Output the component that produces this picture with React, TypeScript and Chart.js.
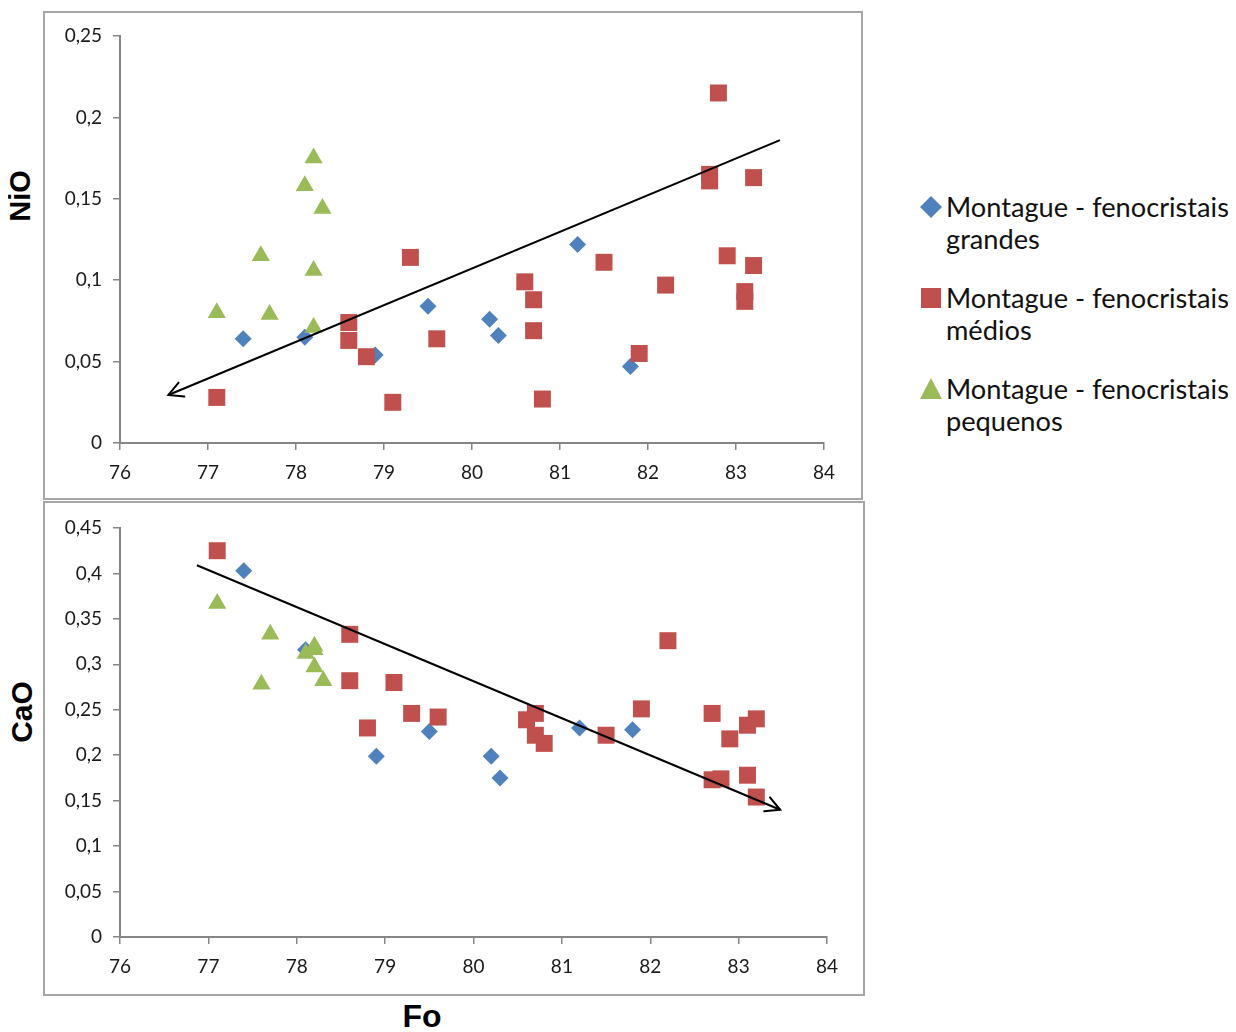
import React, { useEffect, useRef } from 'react';
import { Chart, registerables } from 'chart.js';

Chart.register(...registerables);

// ---- Data ----
const foGrandes = [77.4, 78.1, 78.9, 79.5, 80.2, 80.3, 81.2, 81.8];
const nioGrandes = [0.064, 0.065, 0.054, 0.084, 0.076, 0.066, 0.122, 0.047];
const caoGrandes = [0.403, 0.316, 0.199, 0.226, 0.199, 0.175, 0.230, 0.228];

const foMedios = [77.1, 78.6, 78.6, 78.8, 79.1, 79.3, 79.6, 80.6, 80.7, 80.7, 80.8, 81.5, 81.9, 82.2, 82.7, 82.7, 82.8, 82.9, 83.1, 83.1, 83.2, 83.2];
const nioMedios = [0.028, 0.074, 0.063, 0.053, 0.025, 0.114, 0.064, 0.099, 0.088, 0.069, 0.027, 0.111, 0.055, 0.097, 0.165, 0.161, 0.215, 0.115, 0.093, 0.087, 0.163, 0.109];
const caoMedios = [0.425, 0.333, 0.282, 0.230, 0.280, 0.246, 0.242, 0.239, 0.246, 0.222, 0.213, 0.222, 0.251, 0.326, 0.246, 0.173, 0.174, 0.218, 0.233, 0.178, 0.240, 0.154];

const foPequenos = [77.1, 77.6, 77.7, 78.1, 78.2, 78.3, 78.2, 78.2];
const nioPequenos = [0.080, 0.115, 0.079, 0.158, 0.175, 0.144, 0.106, 0.071];
const caoPequenos = [0.367, 0.278, 0.333, 0.312, 0.320, 0.282, 0.297, 0.316];

// trend arrows (start -> arrow head)
const nioTrendFo = [83.5, 76.55];
const nioTrendVal = [0.186, 0.0295];
const caoTrendFo = [76.87, 83.47];
const caoTrendVal = [0.409, 0.140];

const foTicks = [76, 77, 78, 79, 80, 81, 82, 83, 84];
const nioTicks = [0, 0.05, 0.1, 0.15, 0.2, 0.25];
const caoTicks = [0, 0.05, 0.1, 0.15, 0.2, 0.25, 0.3, 0.35, 0.4, 0.45];

const seriesNames = [
  'Montague - fenocristais grandes',
  'Montague - fenocristais médios',
  'Montague - fenocristais pequenos',
];

const BLUE = '#4F81BD';
const RED = '#C0504D';
const GREEN = '#9BBB59';

const pts = (xs: number[], ys: number[]) => xs.map((x, i) => ({ x, y: ys[i] }));
const fmt = (v: number) => (v === 0 ? '0' : String(+v.toFixed(2)).replace('.', ','));

const boxPlugin = {
  id: 'boxPlugin',
  beforeDraw(chart: any) {
    const { ctx, width, height } = chart;
    ctx.save();
    ctx.fillStyle = '#ffffff';
    ctx.fillRect(0, 0, width, height);
    ctx.strokeStyle = '#a6a6a6';
    ctx.lineWidth = 2;
    ctx.strokeRect(1, 1, width - 2, height - 2);
    ctx.restore();
  },
};

const arrowPlugin = {
  id: 'arrowPlugin',
  afterDatasetsDraw(chart: any) {
    const { ctx } = chart;
    chart.data.datasets.forEach((ds: any, i: number) => {
      if (!ds.isArrow) return;
      const meta = chart.getDatasetMeta(i);
      const p0 = meta.data[0];
      const p1 = meta.data[1];
      const ang = Math.atan2(p1.y - p0.y, p1.x - p0.x);
      const len = 16;
      const spread = Math.PI / 6.5;
      ctx.save();
      ctx.strokeStyle = '#000';
      ctx.lineWidth = 2;
      ctx.lineCap = 'round';
      ctx.beginPath();
      ctx.moveTo(p1.x - len * Math.cos(ang - spread), p1.y - len * Math.sin(ang - spread));
      ctx.lineTo(p1.x, p1.y);
      ctx.lineTo(p1.x - len * Math.cos(ang + spread), p1.y - len * Math.sin(ang + spread));
      ctx.stroke();
      ctx.restore();
    });
  },
};

function makeConfig(
  grandes: number[],
  medios: number[],
  pequenos: number[],
  trendX: number[],
  trendY: number[],
  yTicks: number[],
  padTop: number,
  padRight: number,
  xAxisH: number
): any {
  const tickFont = { family: 'Lato', size: 19 };
  return {
    type: 'scatter',
    data: {
      datasets: [
        {
          label: 'trend',
          isArrow: true,
          data: pts(trendX, trendY),
          showLine: true,
          borderColor: '#000',
          borderWidth: 2,
          pointRadius: 0,
          order: 0,
        },
        {
          label: seriesNames[2],
          data: pts(foPequenos, pequenos),
          pointStyle: 'triangle',
          pointRadius: 10.5,
          backgroundColor: GREEN,
          borderColor: GREEN,
          borderWidth: 0,
          order: 1,
        },
        {
          label: seriesNames[1],
          data: pts(foMedios, medios),
          pointStyle: 'rect',
          pointRadius: 12,
          backgroundColor: RED,
          borderColor: RED,
          borderWidth: 0,
          order: 2,
        },
        {
          label: seriesNames[0],
          data: pts(foGrandes, grandes),
          pointStyle: 'rectRot',
          pointRadius: 8.5,
          backgroundColor: BLUE,
          borderColor: BLUE,
          borderWidth: 0,
          order: 3,
        },
      ],
    },
    options: {
      responsive: false,
      animation: false,
      layout: { padding: { left: 0, top: padTop, right: padRight, bottom: 0 } },
      plugins: { legend: { display: false }, tooltip: { enabled: false } },
      scales: {
        x: {
          type: 'linear',
          min: foTicks[0],
          max: foTicks[foTicks.length - 1],
          afterBuildTicks: (s: any) => {
            s.ticks = foTicks.map((v) => ({ value: v }));
          },
          ticks: { font: tickFont, color: '#1a1a1a', padding: 11, maxRotation: 0, autoSkip: false },
          grid: { display: true, drawOnChartArea: false, drawTicks: true, tickLength: 7, color: '#868686', lineWidth: 1.5 },
          border: { display: true, color: '#868686', width: 2 },
          afterFit: (s: any) => {
            s.height = xAxisH;
            s.paddingLeft = 0;
            s.paddingRight = 0;
          },
        },
        y: {
          type: 'linear',
          min: yTicks[0],
          max: yTicks[yTicks.length - 1],
          afterBuildTicks: (s: any) => {
            s.ticks = yTicks.map((v) => ({ value: v }));
          },
          ticks: { font: tickFont, color: '#1a1a1a', padding: 11, autoSkip: false, callback: (v: number) => fmt(v) },
          grid: { display: true, drawOnChartArea: false, drawTicks: true, tickLength: 7, color: '#868686', lineWidth: 1.5 },
          border: { display: true, color: '#868686', width: 2 },
          afterFit: (s: any) => {
            s.width = 77;
            s.paddingTop = 0;
            s.paddingBottom = 0;
          },
        },
      },
    },
    plugins: [boxPlugin, arrowPlugin],
  };
}

function ChartCanvas({ config, width, height, style }: any) {
  const ref = useRef<HTMLCanvasElement | null>(null);
  useEffect(() => {
    if (!ref.current) return;
    const chart = new Chart(ref.current, config);
    return () => chart.destroy();
  }, []);
  return <canvas ref={ref} width={width} height={height} style={{ position: 'absolute', width, height, ...style }} />;
}

function Marker({ kind, color }: { kind: string; color: string }) {
  if (kind === 'diamond') {
    return (
      <svg width="24" height="24" style={{ position: 'absolute', left: -12, top: -12 }}>
        <polygon points="12,1 23,12 12,23 1,12" fill={color} />
      </svg>
    );
  }
  if (kind === 'square') {
    return (
      <svg width="24" height="24" style={{ position: 'absolute', left: -12, top: -12 }}>
        <rect x="2" y="2" width="20" height="20" fill={color} />
      </svg>
    );
  }
  return (
    <svg width="24" height="24" style={{ position: 'absolute', left: -12, top: -12 }}>
      <polygon points="12,1 23,22 1,22" fill={color} />
    </svg>
  );
}

const legendItems = [
  { kind: 'diamond', color: BLUE, lines: ['Montague - fenocristais', 'grandes'], cy: 207 },
  { kind: 'square', color: RED, lines: ['Montague - fenocristais', 'médios'], cy: 298 },
  { kind: 'triangle', color: GREEN, lines: ['Montague - fenocristais', 'pequenos'], cy: 389 },
];

export default function App() {
  const topCfg = makeConfig(nioGrandes, nioMedios, nioPequenos, nioTrendFo, nioTrendVal, nioTicks, 25, 39, 57);
  const botCfg = makeConfig(caoGrandes, caoMedios, caoPequenos, caoTrendFo, caoTrendVal, caoTicks, 27, 38, 59);
  const off = 8;
  const titleStyle: any = {
    position: 'absolute',
    fontFamily: '"Liberation Sans", Arial, sans-serif',
    fontWeight: 'bold',
    color: '#000',
    whiteSpace: 'nowrap',
    lineHeight: 1,
  };
  return (
    <div style={{ position: 'relative', width: 1220, height: 1024 }}>
      <ChartCanvas config={topCfg} width={820} height={489} style={{ left: 43 - off, top: 11 - off }} />
      <ChartCanvas config={botCfg} width={822} height={495} style={{ left: 43 - off, top: 501 - off }} />
      <div style={{ ...titleStyle, fontSize: 29, left: 20 - off, top: 196 - off, transform: 'translate(-50%, -50%) rotate(-90deg)' }}>NiO</div>
      <div style={{ ...titleStyle, fontSize: 30, left: 22 - off, top: 712 - off, transform: 'translate(-50%, -50%) rotate(-90deg)' }}>CaO</div>
      <div style={{ ...titleStyle, fontSize: 32, left: 422 - off, top: 1016 - off, transform: 'translate(-50%, -50%)' }}>Fo</div>
      {legendItems.map((it, i) => (
        <div key={i}>
          <div style={{ position: 'absolute', left: 931 - off, top: it.cy - off }}>
            <Marker kind={it.kind} color={it.color} />
          </div>
          <div
            style={{
              position: 'absolute',
              left: 946 - off,
              top: it.cy - 16 - off,
              fontFamily: 'Lato, sans-serif',
              fontSize: 27.2,
              lineHeight: '32px',
              color: '#111',
              whiteSpace: 'nowrap',
            }}
          >
            {it.lines[0]}
            <br />
            {it.lines[1]}
          </div>
        </div>
      ))}
    </div>
  );
}
